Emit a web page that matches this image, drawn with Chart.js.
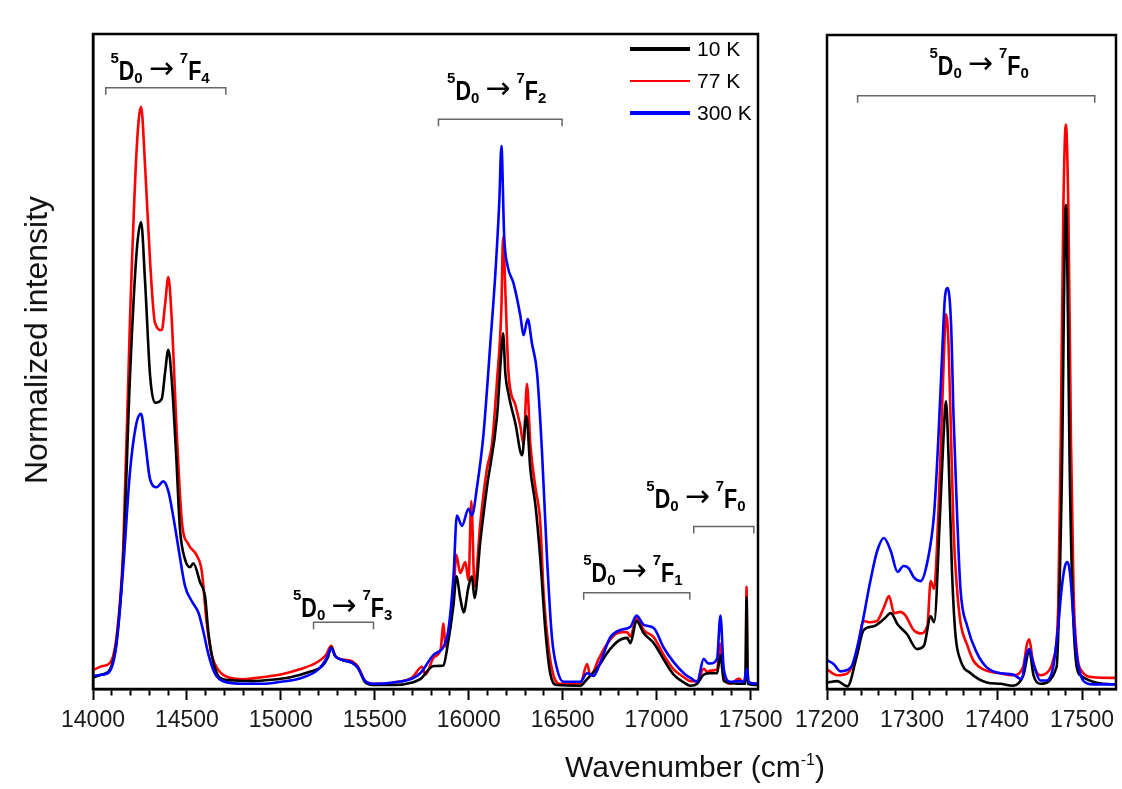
<!DOCTYPE html>
<html><head><meta charset="utf-8">
<script src="https://cdn.jsdelivr.net/npm/chart.js@4.4.1/dist/chart.umd.min.js"></script>
<style>
html,body{margin:0;padding:0;background:#fff;}
#wrap{position:relative;width:1122px;height:789px;overflow:hidden;font-family:"Liberation Sans",Arial,sans-serif;}
canvas{position:absolute;left:0;top:0;}
#xtitle{position:absolute;left:445px;width:500px;top:752px;text-align:center;font-size:30px;line-height:30px;color:#111;white-space:nowrap;}
#xtitle span{font-size:16px;position:relative;top:-12px;}
#ytitle{position:absolute;left:36px;top:340px;transform:translate(-50%,-50%) rotate(-90deg);font-size:32px;line-height:32px;color:#111;white-space:nowrap;}
</style></head><body>
<div id="wrap">
<canvas id="cl" width="1122" height="789"></canvas>
<canvas id="cr" width="1122" height="789"></canvas>
<div id="xtitle">Wavenumber (cm<span>-1</span>)</div>
<div id="ytitle">Normalized intensity</div>
</div>
<script>
// ---------- DATA ----------
const seriesLabels = ['10 K', '77 K', '300 K'];
const leftTickLabels = [14000, 14500, 15000, 15500, 16000, 16500, 17000, 17500];
const rightTickLabels = [17200, 17300, 17400, 17500];

// left panel (full spectrum), [wavenumber, normalized intensity]
const left10K = [[14000,0.018],[14050,0.022],[14091,0.03],[14126,0.075],[14161,0.2],[14197,0.478],[14233,0.67],[14256,0.713],[14277,0.623],[14304,0.478],[14330,0.437],[14366,0.443],[14384,0.484],[14401,0.518],[14419,0.472],[14442,0.361],[14463,0.244],[14490,0.198],[14517,0.186],[14534,0.192],[14570,0.163],[14597,0.14],[14614,0.087],[14641,0.04],[14677,0.017],[14750,0.013],[14850,0.012],[14950,0.014],[15050,0.018],[15150,0.026],[15220,0.035],[15250,0.048],[15268,0.064],[15290,0.05],[15330,0.044],[15380,0.04],[15410,0.033],[15450,0.01],[15500,0.006],[15600,0.006],[15700,0.01],[15742,0.015],[15813,0.035],[15866,0.036],[15884,0.06],[15919,0.128],[15934,0.172],[15955,0.139],[15973,0.117],[15999,0.156],[16017,0.172],[16031,0.139],[16062,0.226],[16097,0.308],[16151,0.417],[16174,0.516],[16183,0.543],[16195,0.482],[16212,0.45],[16248,0.406],[16284,0.357],[16307,0.417],[16328,0.336],[16355,0.281],[16381,0.199],[16408,0.09],[16434,0.024],[16470,0.006],[16594,0.005],[16630,0.015],[16692,0.035],[16737,0.055],[16790,0.072],[16843,0.078],[16861,0.07],[16893,0.104],[16932,0.085],[16985,0.07],[17038,0.045],[17091,0.022],[17145,0.01],[17180,0.005],[17216,0.008],[17251,0.022],[17287,0.024],[17322,0.024],[17340,0.052],[17358,0.012],[17438,0.008],[17472,0.008],[17479,0.14],[17486,0.008],[17536,0.006]];
const left77K = [[14000,0.029],[14050,0.035],[14091,0.04],[14126,0.081],[14161,0.215],[14197,0.565],[14233,0.827],[14256,0.889],[14277,0.8],[14304,0.652],[14330,0.559],[14366,0.548],[14384,0.588],[14401,0.629],[14419,0.565],[14446,0.39],[14473,0.256],[14508,0.221],[14552,0.204],[14579,0.18],[14606,0.099],[14632,0.052],[14667,0.029],[14730,0.017],[14800,0.015],[14900,0.018],[15000,0.022],[15100,0.03],[15200,0.042],[15240,0.052],[15268,0.066],[15290,0.05],[15330,0.045],[15380,0.042],[15410,0.034],[15450,0.012],[15500,0.008],[15600,0.01],[15700,0.018],[15751,0.034],[15770,0.022],[15813,0.048],[15850,0.06],[15866,0.1],[15876,0.065],[15919,0.145],[15934,0.205],[15955,0.177],[15982,0.194],[15999,0.166],[16014,0.287],[16031,0.156],[16062,0.254],[16097,0.336],[16124,0.374],[16151,0.472],[16174,0.581],[16183,0.69],[16195,0.608],[16212,0.482],[16248,0.434],[16275,0.401],[16292,0.374],[16310,0.466],[16328,0.374],[16355,0.308],[16381,0.254],[16399,0.145],[16425,0.063],[16452,0.02],[16488,0.008],[16594,0.008],[16630,0.038],[16648,0.02],[16692,0.046],[16737,0.069],[16790,0.085],[16843,0.087],[16861,0.08],[16893,0.109],[16932,0.09],[16985,0.079],[17038,0.052],[17091,0.03],[17145,0.018],[17180,0.012],[17216,0.012],[17251,0.031],[17270,0.026],[17287,0.028],[17322,0.03],[17340,0.069],[17358,0.02],[17393,0.008],[17438,0.016],[17464,0.01],[17476,0.02],[17479,0.156],[17484,0.02],[17491,0.01],[17536,0.008]];
const left300K = [[14000,0.02],[14050,0.022],[14091,0.028],[14126,0.07],[14161,0.186],[14197,0.332],[14233,0.408],[14256,0.42],[14277,0.379],[14304,0.32],[14339,0.308],[14375,0.317],[14401,0.302],[14428,0.262],[14455,0.215],[14490,0.157],[14526,0.134],[14562,0.116],[14588,0.087],[14615,0.052],[14650,0.023],[14700,0.011],[14800,0.008],[14900,0.008],[15000,0.011],[15100,0.016],[15200,0.03],[15240,0.045],[15268,0.062],[15290,0.05],[15330,0.044],[15380,0.04],[15410,0.032],[15450,0.012],[15500,0.008],[15600,0.01],[15700,0.016],[15742,0.024],[15813,0.052],[15884,0.079],[15919,0.172],[15937,0.265],[15964,0.249],[15999,0.275],[16017,0.265],[16044,0.308],[16079,0.39],[16115,0.527],[16142,0.635],[16163,0.745],[16174,0.829],[16189,0.69],[16207,0.646],[16239,0.619],[16275,0.57],[16292,0.54],[16314,0.565],[16337,0.527],[16364,0.482],[16390,0.363],[16417,0.199],[16443,0.079],[16470,0.031],[16505,0.011],[16594,0.011],[16630,0.024],[16665,0.02],[16701,0.041],[16754,0.079],[16807,0.09],[16861,0.095],[16893,0.112],[16932,0.098],[16985,0.093],[17038,0.063],[17091,0.041],[17145,0.024],[17180,0.017],[17216,0.011],[17251,0.046],[17270,0.04],[17287,0.039],[17322,0.046],[17340,0.112],[17358,0.03],[17393,0.011],[17438,0.012],[17464,0.011],[17482,0.031],[17491,0.01],[17536,0.008]];

// right panel (5D0 -> 7F0 region, separately normalized)
const right10K = [[17200,0.01],[17212,0.012],[17224,0.004],[17235,0.05],[17243,0.09],[17255,0.096],[17267,0.107],[17275,0.116],[17283,0.099],[17294,0.084],[17306,0.061],[17314,0.066],[17322,0.111],[17326,0.102],[17333,0.268],[17337,0.383],[17340,0.44],[17343,0.355],[17347,0.182],[17351,0.085],[17357,0.044],[17369,0.024],[17388,0.01],[17404,0.008],[17419,0.005],[17431,0.021],[17438,0.058],[17443,0.021],[17451,0.008],[17470,0.033],[17476,0.3],[17481,0.74],[17486,0.3],[17490,0.1],[17498,0.021],[17541,0.007]];
const right77K = [[17200,0.03],[17212,0.021],[17224,0.024],[17235,0.056],[17243,0.104],[17251,0.102],[17259,0.104],[17267,0.125],[17273,0.142],[17279,0.116],[17286,0.118],[17292,0.113],[17302,0.09],[17310,0.085],[17318,0.096],[17322,0.165],[17326,0.153],[17331,0.268],[17335,0.412],[17338,0.527],[17340,0.573],[17343,0.527],[17346,0.383],[17349,0.24],[17353,0.153],[17357,0.102],[17365,0.067],[17372,0.044],[17384,0.03],[17404,0.024],[17419,0.021],[17431,0.035],[17435,0.067],[17438,0.076],[17442,0.044],[17451,0.021],[17458,0.024],[17466,0.044],[17472,0.125],[17475,0.383],[17478,0.728],[17481,0.863],[17484,0.728],[17487,0.383],[17490,0.153],[17494,0.056],[17500,0.027],[17513,0.018],[17541,0.017]];
const right300K = [[17200,0.044],[17208,0.038],[17216,0.027],[17228,0.033],[17239,0.084],[17251,0.165],[17259,0.211],[17267,0.231],[17275,0.211],[17283,0.179],[17290,0.188],[17296,0.185],[17302,0.171],[17310,0.165],[17318,0.194],[17326,0.268],[17331,0.383],[17335,0.498],[17339,0.602],[17342,0.613],[17346,0.556],[17349,0.412],[17353,0.268],[17357,0.153],[17365,0.096],[17376,0.056],[17388,0.033],[17404,0.024],[17419,0.022],[17429,0.015],[17434,0.05],[17438,0.061],[17443,0.038],[17451,0.013],[17458,0.013],[17466,0.033],[17472,0.096],[17476,0.153],[17480,0.188],[17483,0.194],[17486,0.176],[17490,0.107],[17494,0.05],[17502,0.012],[17513,0.007],[17541,0.007]];

// transition labels: final-state index, label centre (cm-1, intensity), bracket span and level
const leftTransitions = [
  {j:'4', lx:14357, ly:0.930, from:14068, to:14707, by:0.918},
  {j:'2', lx:16149, ly:0.899, from:15839, to:16497, by:0.870},
  {j:'3', lx:15329, ly:0.110, from:15174, to:15493, by:0.102},
  {j:'1', lx:16874, ly:0.163, from:16612, to:17177, by:0.147},
  {j:'0', lx:17210, ly:0.276, from:17198, to:17518, by:0.248}
];
const rightTransitions = [
  {j:'0', lx:17379, ly:0.939, from:17236, to:17515, by:0.907}
];

// ---------- STYLE / RENDER ----------
const FONT = '"Liberation Sans", Arial, Helvetica, sans-serif';
Chart.defaults.font.family = FONT;
const colors = ['#000000', '#ff0000', '#0000ff'];
const drawOrder = [1, 2, 0];

function makeDatasets(arrs) {
  return arrs.map((d, i) => ({
    label: seriesLabels[i], data: d, borderColor: colors[i], backgroundColor: colors[i],
    borderWidth: 2.6, pointRadius: 0, cubicInterpolationMode: 'monotone', order: drawOrder[i], fill: false
  }));
}

function drawLevel(ctx, cx, by, j) {
  const parts = [
    {t:'5', f:'bold 15px ' + FONT, dy:-17, sx:1},
    {t:'D', f:'bold 27px ' + FONT, dy:0, sx:0.8},
    {t:'0', f:'bold 15px ' + FONT, dy:3, sx:1},
    {gap:6},
    {t:'\u2192', f:'30px "DejaVu Sans", sans-serif', dy:-2, sx:1},
    {gap:6},
    {t:'7', f:'bold 15px ' + FONT, dy:-17, sx:1},
    {t:'F', f:'bold 27px ' + FONT, dy:0, sx:0.8},
    {t:j, f:'bold 15px ' + FONT, dy:3, sx:1}
  ];
  let total = 0;
  parts.forEach(p => { if (p.gap) { p.w = p.gap; } else { ctx.font = p.f; p.w = ctx.measureText(p.t).width * p.sx; } total += p.w; });
  let x = cx - total / 2;
  ctx.fillStyle = '#000';
  ctx.textBaseline = 'alphabetic';
  ctx.textAlign = 'left';
  parts.forEach(p => {
    if (!p.gap) {
      ctx.save();
      ctx.font = p.f;
      ctx.translate(x, by + p.dy);
      ctx.scale(p.sx, 1);
      ctx.fillText(p.t, 0, 0);
      ctx.restore();
    }
    x += p.w;
  });
}

function annotPlugin(transitions, withLegend) {
  return {
    id: 'annot',
    afterDatasetsDraw(chart) {
      const {ctx, chartArea: a, scales: {x, y}} = chart;
      ctx.save();
      ctx.strokeStyle = '#000'; ctx.lineWidth = 2.5;
      ctx.strokeRect(a.left, a.top, a.right - a.left, a.bottom - a.top);
      transitions.forEach(t => {
        const x1 = x.getPixelForValue(t.from), x2 = x.getPixelForValue(t.to), yb = y.getPixelForValue(t.by);
        ctx.strokeStyle = '#666'; ctx.lineWidth = 1.5;
        ctx.beginPath();
        ctx.moveTo(x1, yb + 7); ctx.lineTo(x1, yb); ctx.lineTo(x2, yb); ctx.lineTo(x2, yb + 7);
        ctx.stroke();
        drawLevel(ctx, x.getPixelForValue(t.lx), y.getPixelForValue(t.ly), t.j);
      });
      if (withLegend) {
        const widths = [4, 2, 4];
        chart.data.datasets.forEach((ds, i) => {
          const yy = a.top + 15 + i * 32;
          ctx.strokeStyle = ds.borderColor; ctx.lineWidth = widths[i];
          ctx.beginPath(); ctx.moveTo(a.right - 128, yy); ctx.lineTo(a.right - 68, yy); ctx.stroke();
          ctx.fillStyle = '#000'; ctx.font = '21px ' + FONT; ctx.textBaseline = 'middle'; ctx.textAlign = 'left';
          ctx.fillText(ds.label, a.right - 61, yy + 1);
        });
      }
      ctx.restore();
    }
  };
}

function xScale(min, max, step, labels) {
  return {
    type: 'linear', min: min, max: max, position: 'bottom',
    afterBuildTicks: (s) => { const t = []; for (let v = min; v < max; v += step) t.push({value: v}); s.ticks = t; },
    afterFit: (s) => { s.height = 100; },
    ticks: { autoSkip: false, maxRotation: 0, padding: 7, color: '#1a1a1a', font: {size: 23, family: FONT},
      callback: (v) => labels.includes(v) ? String(v) : '' },
    grid: { drawOnChartArea: false, drawTicks: true, tickLength: 11, tickWidth: 2, tickColor: '#000',
      tickBorderDash: (c) => (c.tick && labels.includes(c.tick.value)) ? [] : [5, 40] },
    border: { display: true, color: '#000', width: 2.5 }
  };
}

new Chart(document.getElementById('cl'), {
  type: 'line',
  data: { datasets: makeDatasets([left10K, left77K, left300K]) },
  options: {
    responsive: false, animation: false, devicePixelRatio: 1,
    layout: { padding: {left: 93, top: 34, right: 364, bottom: 0} },
    plugins: { legend: {display: false}, tooltip: {enabled: false} },
    scales: {
      x: xScale(14000, 17540, 100, leftTickLabels),
      y: { min: 0, max: 1, afterFit: (s) => { s.width = 0; },
        ticks: {display: false}, grid: {display: false},
        border: {display: true, color: '#000', width: 2.5} }
    }
  },
  plugins: [annotPlugin(leftTransitions, true)]
});

new Chart(document.getElementById('cr'), {
  type: 'line',
  data: { datasets: makeDatasets([right10K, right77K, right300K]) },
  options: {
    responsive: false, animation: false, devicePixelRatio: 1,
    layout: { padding: {left: 827, top: 35, right: 6, bottom: 0} },
    plugins: { legend: {display: false}, tooltip: {enabled: false} },
    scales: {
      x: xScale(17200, 17540, 20, rightTickLabels),
      y: { min: 0, max: 1, display: false }
    }
  },
  plugins: [annotPlugin(rightTransitions, false)]
});
</script>
</body></html>
